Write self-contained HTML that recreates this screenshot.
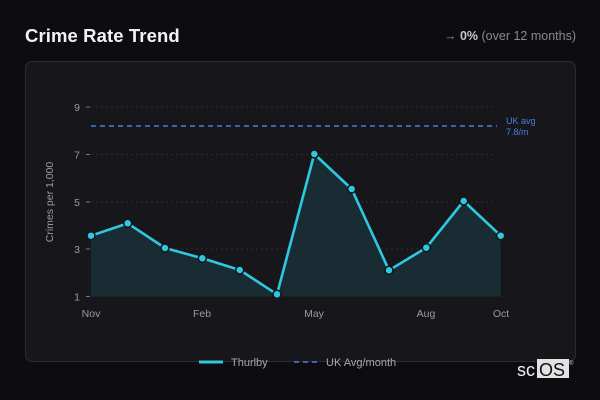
<!DOCTYPE html>
<html><head><meta charset="utf-8"><style>
html,body{margin:0;padding:0;background:#0d0d11;}
body{width:600px;height:400px;position:relative;overflow:hidden;font-family:"Liberation Sans","DejaVu Sans",sans-serif;}
.title{position:absolute;left:25px;top:25px;font-size:18.5px;font-weight:bold;color:#f2f2f2;letter-spacing:0.1px;}
.chg{position:absolute;right:24px;top:29px;font-size:12.5px;color:#8a8a90;}
.chg b{color:#c8c8cc;}
.card{position:absolute;left:25px;top:61px;width:549px;height:299px;background:#17171b;border:1px solid #2b2b31;border-radius:7px;}
svg{position:absolute;left:0;top:0;}
</style></head><body>
<div class="title">Crime Rate Trend</div>
<div class="chg">→ <b>0%</b> (over 12 months)</div>
<div class="card"></div>
<svg width="600" height="400" viewBox="0 0 600 400" font-family="Liberation Sans, DejaVu Sans, sans-serif">
  <g stroke="#2c2c32" stroke-width="1" stroke-dasharray="2,3">
    <line x1="91" y1="107" x2="497" y2="107"/>
    <line x1="91" y1="154.5" x2="497" y2="154.5"/>
    <line x1="91" y1="202" x2="497" y2="202"/>
    <line x1="91" y1="249" x2="497" y2="249"/>
  </g>
  <g stroke="#777" stroke-width="1">
    <line x1="86" y1="107" x2="90" y2="107"/>
    <line x1="86" y1="154.5" x2="90" y2="154.5"/>
    <line x1="86" y1="202" x2="90" y2="202"/>
    <line x1="86" y1="249" x2="90" y2="249"/>
    <line x1="86" y1="296.5" x2="90" y2="296.5"/>
  </g>
  <g fill="#9a9aa0" font-size="10.5" text-anchor="end">
    <text x="80" y="111">9</text>
    <text x="80" y="158.5">7</text>
    <text x="80" y="206">5</text>
    <text x="80" y="253">3</text>
    <text x="80" y="300.5">1</text>
  </g>
  <text x="0" y="0" transform="translate(53,202) rotate(-90)" fill="#9a9aa0" font-size="10.5" text-anchor="middle">Crimes per 1,000</text>
  <g fill="#9a9aa0" font-size="10.5" text-anchor="middle">
    <text x="91" y="317">Nov</text>
    <text x="202" y="317">Feb</text>
    <text x="314" y="317">May</text>
    <text x="426" y="317">Aug</text>
    <text x="501" y="317">Oct</text>
  </g>
  <path d="M91,235.7 L127.7,223.3 L165,248 L202.3,258.3 L239.7,270 L277,294.3 L314.3,154 L351.7,189 L389,270.3 L426.3,247.7 L463.7,201 L500.7,235.7 L500.7,296.5 L91,296.5 Z" fill="#1a2c33"/>
  <line x1="91" y1="126" x2="497" y2="126" stroke="#4a7fd8" stroke-width="1.6" stroke-dasharray="5,4"/>
  <g fill="#4a7fd8" font-size="9">
    <text x="506" y="124">UK avg</text>
    <text x="506" y="135">7.8/m</text>
  </g>
  <polyline points="91,235.7 127.7,223.3 165,248 202.3,258.3 239.7,270 277,294.3 314.3,154 351.7,189 389,270.3 426.3,247.7 463.7,201 500.7,235.7" fill="none" stroke="#2ec9e1" stroke-width="2.6" stroke-linejoin="round"/>
  <g fill="#2ec9e1" stroke="#111418" stroke-width="1.5">
    <circle cx="91" cy="235.7" r="4"/>
    <circle cx="127.7" cy="223.3" r="4"/>
    <circle cx="165" cy="248" r="4"/>
    <circle cx="202.3" cy="258.3" r="4"/>
    <circle cx="239.7" cy="270" r="4"/>
    <circle cx="277" cy="294.3" r="4"/>
    <circle cx="314.3" cy="154" r="4"/>
    <circle cx="351.7" cy="189" r="4"/>
    <circle cx="389" cy="270.3" r="4"/>
    <circle cx="426.3" cy="247.7" r="4"/>
    <circle cx="463.7" cy="201" r="4"/>
    <circle cx="500.7" cy="235.7" r="4"/>
  </g>
  <line x1="199" y1="362" x2="223" y2="362" stroke="#2ec9e1" stroke-width="3"/>
  <text x="231" y="366" fill="#a8a8ae" font-size="11">Thurlby</text>
  <line x1="294" y1="362" x2="318" y2="362" stroke="#4a7fd8" stroke-width="1.6" stroke-dasharray="5,4"/>
  <text x="326" y="366" fill="#a8a8ae" font-size="11">UK Avg/month</text>
  <text x="517" y="376" fill="#f0f0f0" font-size="18">sc</text>
  <rect x="537" y="359" width="32" height="19" fill="#e2e2e2"/>
  <text x="539" y="376" fill="#111" font-size="18">OS</text>
  <text x="569" y="365" fill="#ccc" font-size="6">®</text>
</svg>
</body></html>
